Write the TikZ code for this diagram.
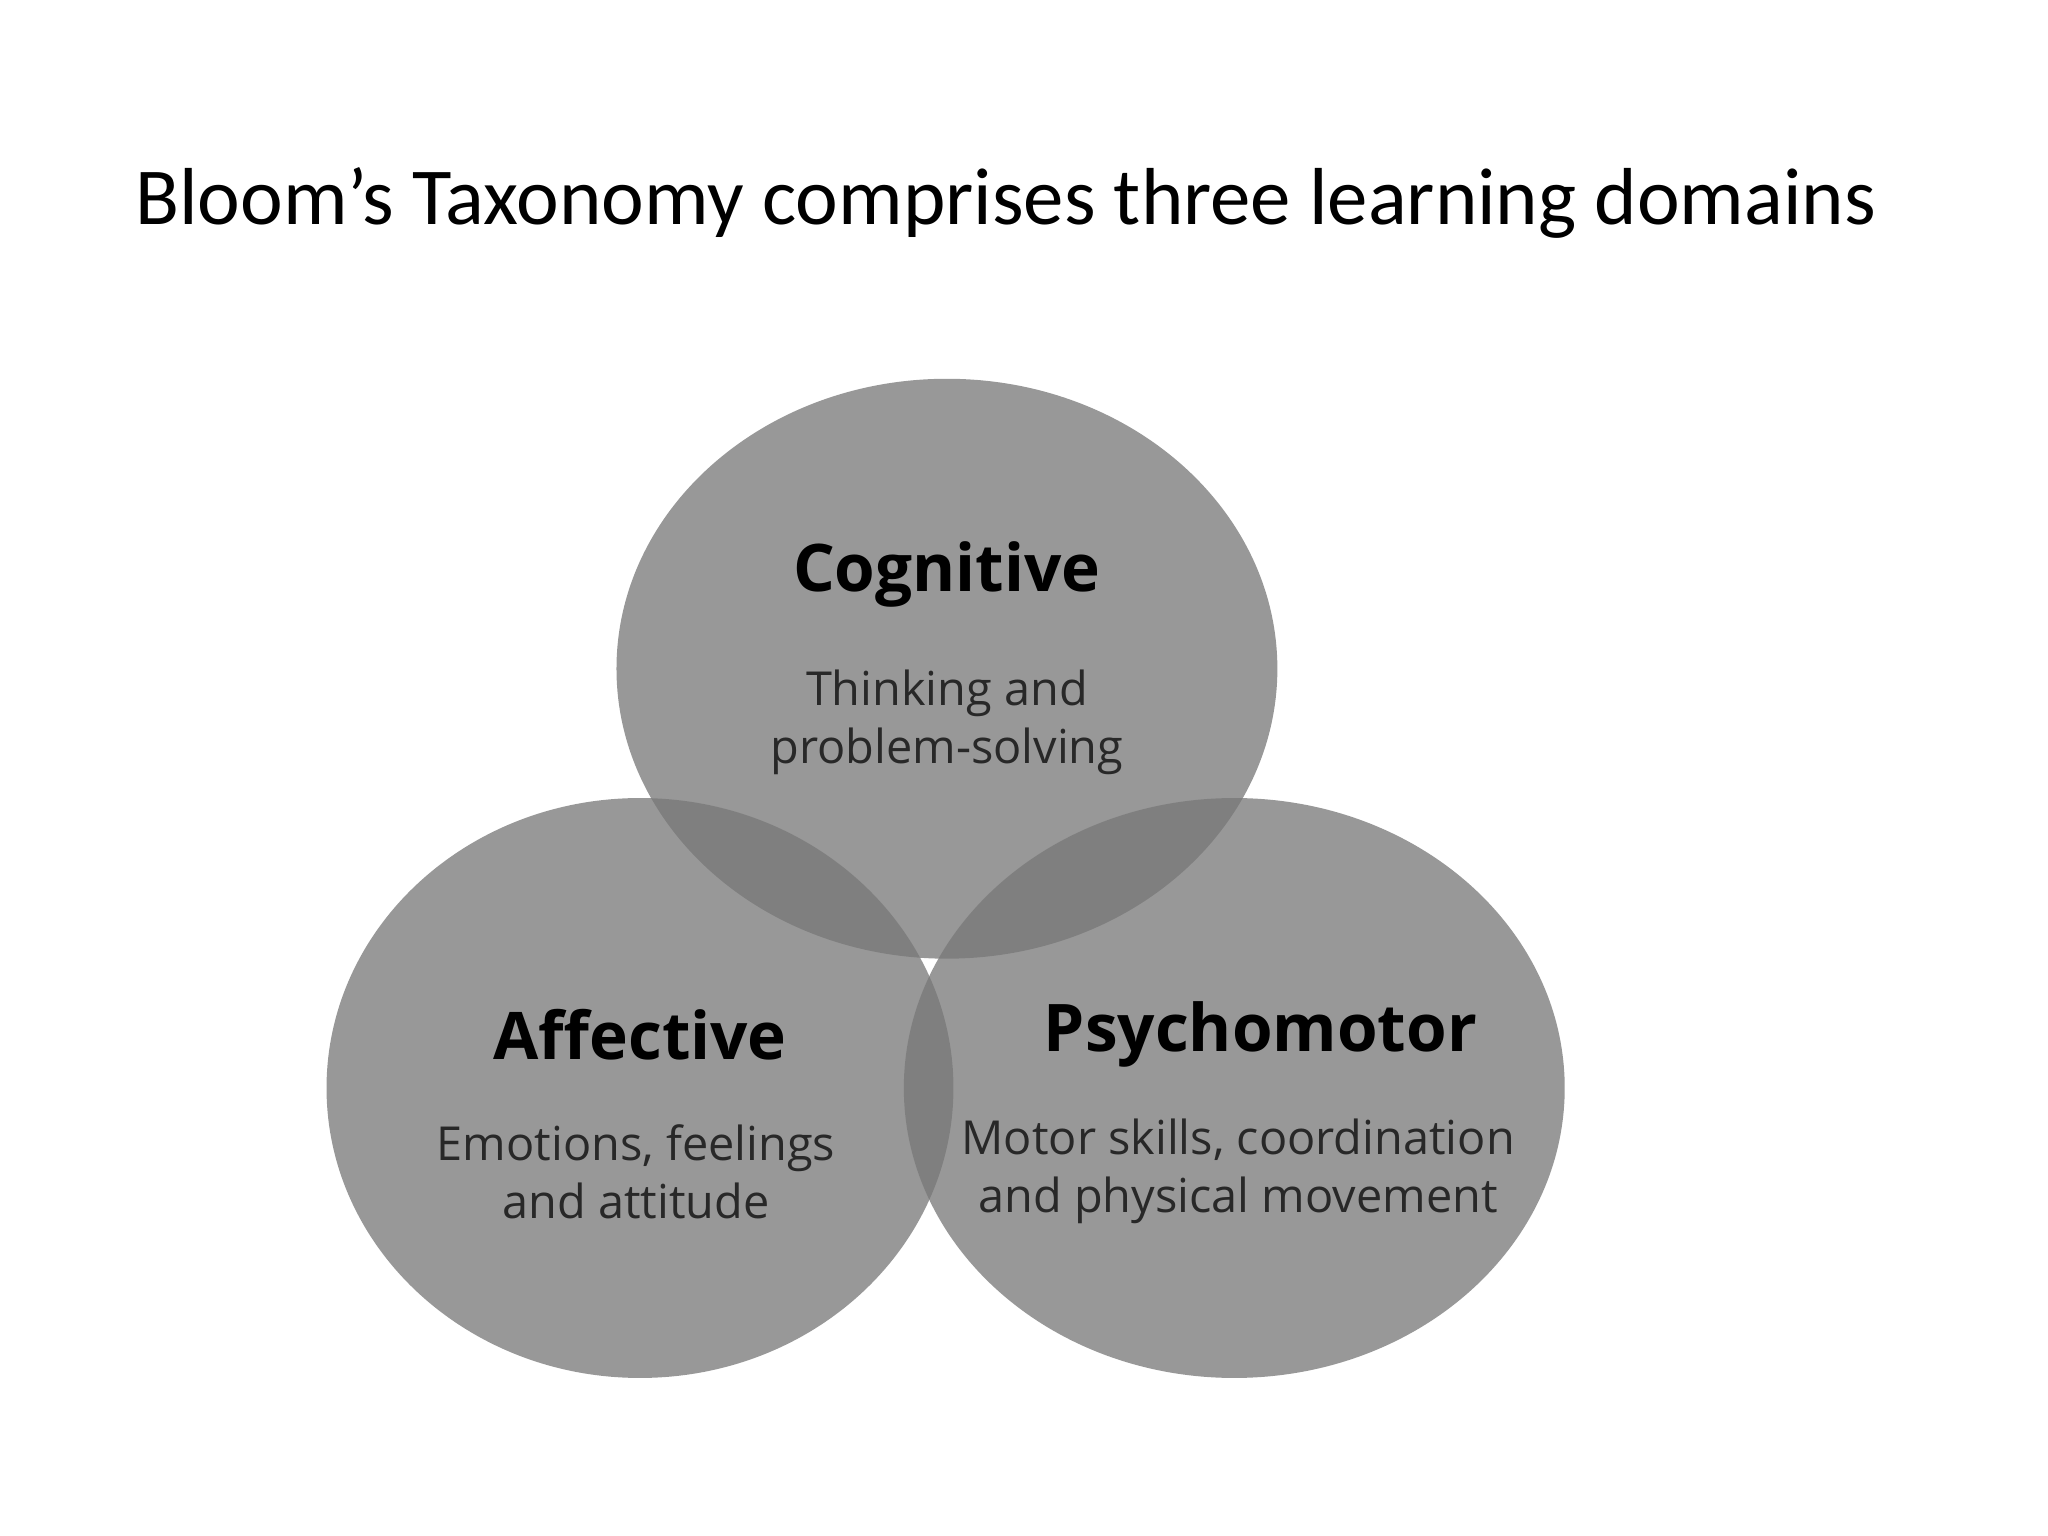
\documentclass[tikz,border=0pt]{standalone}
\usepackage{fontspec}
\setmainfont{Carlito}
\newfontfamily\osans{Open Sans}
\begin{document}
\begin{tikzpicture}[x=0.01cm,y=-0.01cm,
  blob/.style={fill={rgb,255:red,120;green,120;blue,120},fill opacity=0.755,draw=none},
  head/.style={font=\osans\bfseries\fontsize{14.3}{16}\selectfont,text=black},
  sub/.style={font=\osans\fontsize{10.2}{12.6}\selectfont,text={rgb,255:red,40;green,40;blue,40},align=center}]
\useasboundingbox (0,0) rectangle (1568,1176);
\fill[white] (0,0) rectangle (1568,1176);
\node[font=\fontsize{17.6}{20}\selectfont,anchor=base] (title) at (770,172) {Bloom's Taxonomy comprises three learning domains};
\fill[blob] (725,512) ellipse [x radius=253, y radius=222];
\fill[blob] (490,833) ellipse [x radius=240, y radius=222];
\fill[blob] (945,833) ellipse [x radius=253, y radius=222];
\node[head] (cog) at (725,440) {Cognitive};
\node[sub] (cogs) at (725,553) {Thinking and\\problem-solving};
\node[head] (aff) at (490,792) {Affective};
\node[sub] (affs) at (487,897) {Emotions, feelings\\and attitude};
\node[head] (psy) at (965,792) {Psychomotor};
\node[sub] (psys) at (948,897) {Motor skills, coordination\\and physical movement};
\end{tikzpicture}
\end{document}
